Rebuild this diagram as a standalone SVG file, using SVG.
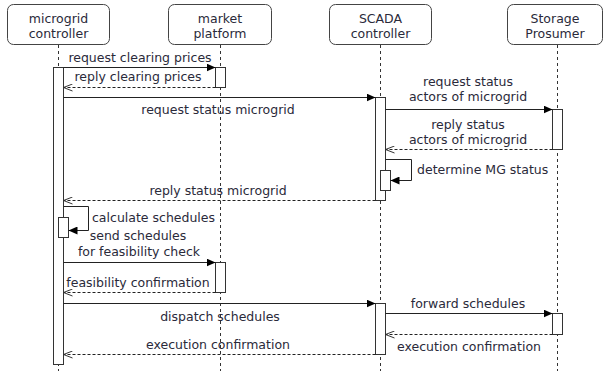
<svg xmlns="http://www.w3.org/2000/svg" width="605" height="371" viewBox="0 0 605 371">
<defs>
<marker id="filled" markerWidth="10" markerHeight="8" refX="9" refY="4" orient="auto" markerUnits="userSpaceOnUse">
<path d="M0,0 L9,4 L0,8 Z" fill="#000"/>
</marker>
<marker id="open" markerWidth="10" markerHeight="8" refX="9" refY="4" orient="auto" markerUnits="userSpaceOnUse">
<path d="M0,0.5 L9,4 L0,7.5" fill="none" stroke="#333" stroke-width="1"/>
</marker>
</defs>
<style>
text{font-family:"DejaVu Sans",Verdana,sans-serif;font-size:12.5px;fill:#2a2a3a}
.c{text-anchor:middle}
.box{fill:#fff;stroke:#444;stroke-width:1}
.life{stroke:#333;stroke-width:1;stroke-dasharray:3,3;fill:none}
.act{fill:#fff;stroke:#333;stroke-width:1}
.msg{stroke:#222;stroke-width:1;fill:none}
.sync{marker-end:url(#filled)}
.reply{stroke-dasharray:3,2;marker-end:url(#open)}
</style>
<rect width="605" height="371" fill="#fff"/>
<g id="lifelines">
<line class="life" x1="58.5" y1="45" x2="58.5" y2="371"/>
<line class="life" x1="220.5" y1="45" x2="220.5" y2="371"/>
<line class="life" x1="380.5" y1="45" x2="380.5" y2="371"/>
<line class="life" x1="557.5" y1="45" x2="557.5" y2="371"/>
</g>
<g id="microgrid-controller">
<rect class="box" x="7.5" y="4.5" width="102" height="40" rx="6"/>
<text class="c" x="58.5" y="23">microgrid</text>
<text class="c" x="58.5" y="38">controller</text>
</g>
<g id="market-platform">
<rect class="box" x="168.5" y="4.5" width="103" height="40" rx="6"/>
<text class="c" x="220" y="23">market</text>
<text class="c" x="220" y="38">platform</text>
</g>
<g id="scada-controller">
<rect class="box" x="329.5" y="4.5" width="102" height="40" rx="6"/>
<text class="c" x="380.5" y="23">SCADA</text>
<text class="c" x="380.5" y="38">controller</text>
</g>
<g id="storage-prosumer">
<rect class="box" x="507.5" y="4.5" width="95" height="40" rx="6"/>
<text class="c" x="555" y="23">Storage</text>
<text class="c" x="555" y="38">Prosumer</text>
</g>
<g id="activations">
<rect class="act" x="53.5" y="67.5" width="10" height="297"/>
<rect class="act" x="215.5" y="67.5" width="10" height="20"/>
<rect class="act" x="375.5" y="97.5" width="10" height="103"/>
<rect class="act" x="552.5" y="109.5" width="10" height="40"/>
<rect class="act" x="380.5" y="170.5" width="10" height="20"/>
<rect class="act" x="58.5" y="217.5" width="10" height="20"/>
<rect class="act" x="215.5" y="262.5" width="10" height="30"/>
<rect class="act" x="375.5" y="303.5" width="10" height="51"/>
<rect class="act" x="552.5" y="313.5" width="10" height="21"/>
</g>
<g id="connectors">
<line class="msg sync" x1="63.5" y1="67.5" x2="215.5" y2="67.5"/>
<line class="msg reply" x1="215.5" y1="87.5" x2="63.5" y2="87.5"/>
<line class="msg sync" x1="63.5" y1="97.5" x2="375.5" y2="97.5"/>
<line class="msg sync" x1="385.5" y1="109.5" x2="552.5" y2="109.5"/>
<line class="msg reply" x1="552.5" y1="149.5" x2="385.5" y2="149.5"/>
<path class="msg sync" d="M385.5,159.5 H411.5 V180.5 H390.5"/>
<line class="msg reply" x1="375.5" y1="200.5" x2="63.5" y2="200.5"/>
<path class="msg sync" d="M63.5,206.5 H88.5 V230.5 H68.5"/>
<line class="msg sync" x1="63.5" y1="262.5" x2="215.5" y2="262.5"/>
<line class="msg reply" x1="215.5" y1="292.5" x2="63.5" y2="292.5"/>
<line class="msg sync" x1="63.5" y1="303.5" x2="375.5" y2="303.5"/>
<line class="msg sync" x1="385.5" y1="313.5" x2="552.5" y2="313.5"/>
<line class="msg reply" x1="552.5" y1="334.5" x2="385.5" y2="334.5"/>
<line class="msg reply" x1="375.5" y1="354.5" x2="63.5" y2="354.5"/>
</g>
<g id="labels">
<text class="c" x="140" y="62">request clearing prices</text>
<text class="c" x="138" y="81">reply clearing prices</text>
<text class="c" x="218" y="114">request status microgrid</text>
<text class="c" x="468" y="86">request status</text>
<text class="c" x="468" y="101">actors of microgrid</text>
<text class="c" x="468" y="129">reply status</text>
<text class="c" x="468" y="144">actors of microgrid</text>
<text x="417" y="174">determine MG status</text>
<text class="c" x="218" y="195">reply status microgrid</text>
<text x="92" y="222">calculate schedules</text>
<text class="c" x="138" y="240">send schedules</text>
<text class="c" x="139" y="256">for feasibility check</text>
<text class="c" x="138" y="287">feasibility confirmation</text>
<text class="c" x="220" y="321">dispatch schedules</text>
<text class="c" x="468" y="308">forward schedules</text>
<text class="c" x="469" y="351">execution confirmation</text>
<text class="c" x="218" y="349">execution confirmation</text>
</g>
</svg>
